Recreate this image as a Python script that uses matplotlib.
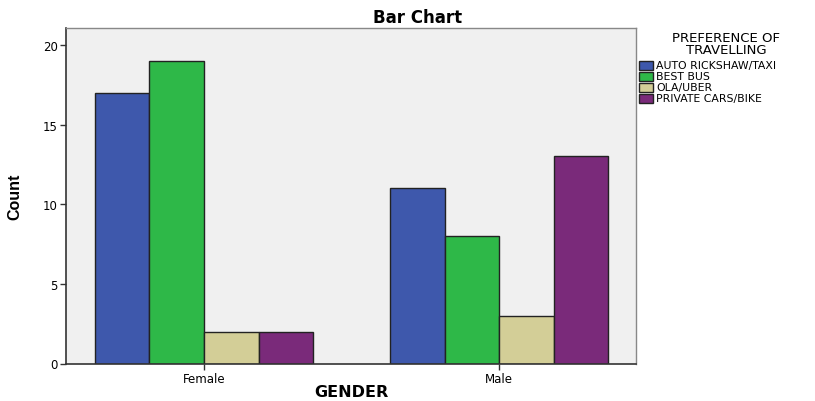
import numpy as np
from matplotlib import pyplot as plt
from matplotlib.patches import Rectangle

genders = ["Female", "Male"]
modes = ["AUTO RICKSHAW/TAXI", "BEST BUS", "OLA/UBER", "PRIVATE CARS/BIKE"]
auto_counts = [17, 11]
bus_counts = [19, 8]
ola_counts = [2, 3]
private_counts = [2, 13]

colors = ["#3E58AC", "#2EB848", "#D3CE97", "#7A2A7A"]

plt.rcParams["font.family"] = ["DejaVu Sans"]

W, H = 815, 402
fig = plt.figure(figsize=(W / 100, H / 100), dpi=100)
ax = fig.add_axes([66 / W, 37.5 / H, 570 / W, 335.5 / H])
ax.set_facecolor("#F0F0F0")

x = np.arange(len(genders))
bar_width = 0.185
series = [auto_counts, bus_counts, ola_counts, private_counts]
for j, values in enumerate(series):
    ax.bar(
        x + (j - 1.5) * bar_width,
        values,
        width=bar_width,
        color=colors[j],
        edgecolor="#222222",
        linewidth=1.0,
    )

ax.set_xlim(-0.468, 1.464)
ax.set_ylim(0, 21.06)
ax.set_yticks([0, 5, 10, 15, 20])
ax.set_xticks(x)
ax.set_xticklabels(genders)
ax.tick_params(axis="both", labelsize=8.5, length=4, width=1, color="#333333", pad=2)

for side in ["left", "bottom"]:
    ax.spines[side].set_color("#333333")
    ax.spines[side].set_linewidth(1.2)
for side in ["top", "right"]:
    ax.spines[side].set_color("#888888")
    ax.spines[side].set_linewidth(1.0)

# titles and axis labels placed in figure pixels
fig.text(418 / W, 1 - 18 / H, "Bar Chart", fontsize=12, fontweight="bold",
         ha="center", va="center")
fig.text(351 / W, 1 - 393 / H, "GENDER", fontsize=11.5, fontweight="bold",
         ha="center", va="center")
fig.text(15 / W, 1 - 197 / H, "Count", fontsize=11.5, fontweight="bold",
         family=["Liberation Sans Narrow", "Liberation Sans"],
         rotation=90, ha="center", va="center")

# legend
fig.text(726 / W, 1 - 38 / H, "PREFERENCE OF", fontsize=9.5,
         ha="center", va="center")
fig.text(726 / W, 1 - 51 / H, "TRAVELLING", fontsize=9.5,
         ha="center", va="center")
for j, label in enumerate(modes):
    yc = 66.5 + 11 * j
    fig.patches.append(Rectangle(
        (639 / W, 1 - (yc + 4.5) / H), 14 / W, 9 / H,
        transform=fig.transFigure, facecolor=colors[j],
        edgecolor="#222222", linewidth=1.0,
    ))
    fig.text(656 / W, 1 - yc / H, label, fontsize=7.8, ha="left", va="center")

fig.savefig("out.png", dpi=100)
